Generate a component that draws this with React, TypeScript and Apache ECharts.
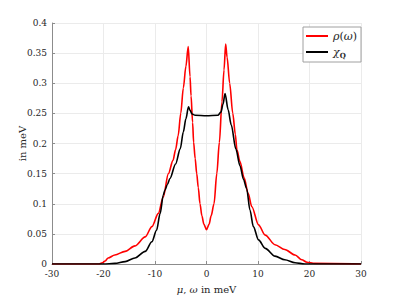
import React, { useEffect, useRef } from "react";
import * as echarts from "echarts";

const xTicks = [-30, -20, -10, 0, 10, 20, 30];
const yTicks = [0, 0.05, 0.1, 0.15, 0.2, 0.25, 0.3, 0.35, 0.4];

const rhoOmega = [-30, -21, -20.2, -19.7, -19.1, -17.8, -15.8, -13.9, -11.9, -10.6, -9.35, -8.4, -7.4, -6.5, -6, -5.5, -5, -4.5, -4, -3.55, -3.2, -3, -2.7, -2.5, -2.2, -1.9, -1.6, -1.26, -0.9, -0.5, 0, 0.5, 0.9, 1.46, 2.0, 2.5, 3, 3.4, 3.72, 4, 4.5, 5.1, 5.6, 5.9, 6.5, 7.3, 8.1, 8.8, 10.1, 11.4, 13.3, 15.2, 17.2, 18.5, 19.5, 21, 30];
const rhoValues = [0, 0, 0.002, 0.005, 0.01, 0.015, 0.021, 0.03, 0.045, 0.062, 0.084, 0.111, 0.15, 0.172, 0.19, 0.213, 0.25, 0.292, 0.328, 0.361, 0.311, 0.279, 0.235, 0.202, 0.175, 0.15, 0.127, 0.1, 0.08, 0.066, 0.057, 0.066, 0.08, 0.1, 0.15, 0.202, 0.269, 0.322, 0.365, 0.343, 0.3, 0.25, 0.215, 0.19, 0.17, 0.143, 0.117, 0.095, 0.065, 0.048, 0.032, 0.024, 0.015, 0.007, 0.003, 0.001, 0];

const chiOmega = [-30, -20, -17.8, -15.8, -13.9, -11.9, -10.6, -9.7, -9.0, -8.4, -8.1, -7.6, -7.1, -6, -5.1, -4.5, -4, -3.5, -3.2, -2.8, -2.2, 0, 2.2, 2.8, 3.2, 3.6, 4.2, 4.8, 5.7, 6.5, 7.2, 7.8, 8.45, 9.1, 10.1, 11.4, 13.3, 15.2, 17.2, 19.1, 30];
const chiValues = [0, 0, 0.001, 0.004, 0.01, 0.021, 0.037, 0.056, 0.084, 0.114, 0.122, 0.132, 0.142, 0.166, 0.191, 0.219, 0.241, 0.261, 0.255, 0.249, 0.247, 0.246, 0.247, 0.252, 0.265, 0.283, 0.256, 0.231, 0.191, 0.163, 0.14, 0.125, 0.089, 0.062, 0.04, 0.026, 0.013, 0.007, 0.002, 0, 0];

const FONT = "DejaVu Serif";
const AXIS_COLOR = "#8c8c8c";
const TEXT_COLOR = "#262626";

export default function App() {
  const ref = useRef<HTMLDivElement>(null);
  useEffect(() => {
    if (!ref.current) return;
    const chart = echarts.init(ref.current, undefined, { renderer: "svg" });
    const zip = (xs: number[], ys: number[]) => xs.map((x, i) => [x, ys[i]]);
    chart.setOption({
      animation: false,
      backgroundColor: "#ffffff",
      textStyle: { fontFamily: FONT },
      grid: { left: 52, right: 38, top: 23, bottom: 33 },
      legend: {
        orient: "vertical",
        left: 303,
        top: 27,
        padding: [1, 4, 2, 3],
        itemGap: 0,
        itemWidth: 22,
        itemHeight: 2,
        icon: "rect",
        backgroundColor: "#ffffff",
        borderColor: "#a0a0a0",
        borderWidth: 1,
        borderRadius: 0,
        data: ["rho", "chi"],
        formatter: (name: string) =>
          name === "rho" ? "{i|ρ}{n|(}{i|ω}{n|)}" : "{i|χ}{s|Q}",
        textStyle: {
          fontFamily: FONT,
          color: TEXT_COLOR,
          fontSize: 11,
          lineHeight: 16,
          rich: {
            i: { fontFamily: FONT, fontStyle: "italic", fontSize: 11, lineHeight: 16, color: TEXT_COLOR },
            n: { fontFamily: FONT, fontSize: 11, lineHeight: 16, color: TEXT_COLOR },
            s: { fontFamily: FONT, fontSize: 7, lineHeight: 16, fontWeight: "bold", color: TEXT_COLOR, padding: [6, 0, 0, 0] },
          },
        },
      },
      xAxis: {
        type: "value",
        min: xTicks[0],
        max: xTicks[xTicks.length - 1],
        interval: 10,
        name: "{i|μ}, {i|ω} in meV",
        nameLocation: "middle",
        nameGap: 20,
        nameMoveOverlap: false,
        nameTextStyle: {
          fontFamily: FONT,
          fontSize: 10,
          color: TEXT_COLOR,
          rich: {
            i: { fontFamily: FONT, fontStyle: "italic", fontSize: 10, color: TEXT_COLOR },
          },
        },
        axisLine: { show: true, onZero: false, lineStyle: { color: AXIS_COLOR, width: 1 } },
        axisTick: { show: true, inside: true, length: 3, lineStyle: { color: AXIS_COLOR } },
        axisLabel: { fontFamily: FONT, fontSize: 9, color: TEXT_COLOR, margin: 5 },
        splitLine: { show: true, lineStyle: { color: "#ebebeb", width: 1 } },
      },
      yAxis: {
        type: "value",
        min: yTicks[0],
        max: yTicks[yTicks.length - 1],
        interval: 0.05,
        name: "in meV",
        nameLocation: "middle",
        nameGap: 25,
        nameMoveOverlap: false,
        nameRotate: 90,
        nameTextStyle: { fontFamily: FONT, fontSize: 10, color: TEXT_COLOR },
        axisLine: { show: true, onZero: false, lineStyle: { color: AXIS_COLOR, width: 1 } },
        axisTick: { show: true, inside: true, length: 3, lineStyle: { color: AXIS_COLOR } },
        axisLabel: { fontFamily: FONT, fontSize: 9, color: TEXT_COLOR, margin: 5 },
        splitLine: { show: true, lineStyle: { color: "#ebebeb", width: 1 } },
      },
      series: [
        {
          name: "rho",
          type: "line",
          data: zip(rhoOmega, rhoValues),
          showSymbol: false,
          smooth: 0.3,
          smoothMonotone: "x",
          color: "#ff0000",
          lineStyle: { color: "#ff0000", width: 1.6 },
          z: 2,
        },
        {
          name: "chi",
          type: "line",
          data: zip(chiOmega, chiValues),
          showSymbol: false,
          smooth: 0.3,
          smoothMonotone: "x",
          color: "#000000",
          lineStyle: { color: "#000000", width: 1.6 },
          z: 3,
        },
      ],
    });
    return () => chart.dispose();
  }, []);
  return <div ref={ref} style={{ width: 399, height: 299, position: "absolute", left: 0, top: 0 }} />;
}
